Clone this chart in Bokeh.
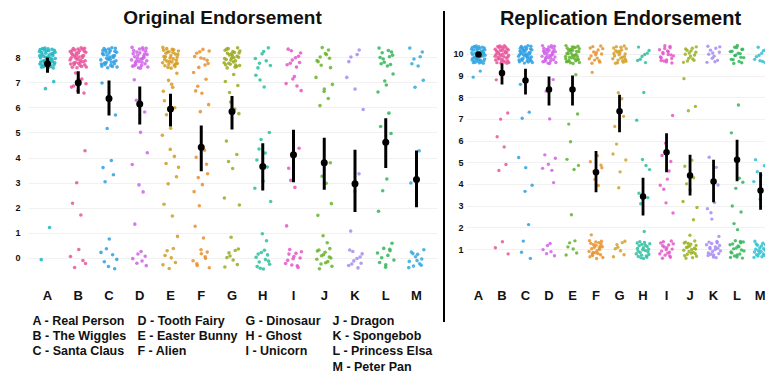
from bokeh.plotting import figure
from bokeh.layouts import row, column
from bokeh.models import Range1d, FixedTicker, Label, ColumnDataSource, Div
from bokeh.embed import file_html
from bokeh.resources import INLINE

letters = ["A", "B", "C", "D", "E", "F", "G", "H", "I", "J", "K", "L", "M"]
legend_names = ["Real Person", "The Wiggles", "Santa Claus", "Tooth Fairy", "Easter Bunny",
                "Alien", "Dinosaur", "Ghost", "Unicorn", "Dragon", "Spongebob",
                "Princess Elsa", "Peter Pan"]

# ---- Original endorsement: response counts at levels 0..8 per character ----
orig_levels = [0, 1, 2, 3, 4, 5, 6, 7, 8]
orig_counts = [
    [1, 1, 0, 0, 0, 0, 0, 2, 45],   # A
    [5, 0, 2, 1, 1, 0, 0, 8, 40],   # B
    [7, 1, 0, 2, 2, 1, 1, 1, 35],   # C
    [7, 1, 0, 2, 2, 1, 2, 1, 33],   # D
    [7, 1, 2, 2, 4, 2, 3, 5, 32],   # E
    [9, 2, 1, 4, 3, 0, 2, 5, 11],   # F
    [8, 1, 2, 0, 3, 1, 3, 4, 30],   # G
    [12, 2, 1, 2, 4, 2, 0, 3, 8],   # H
    [12, 1, 0, 2, 2, 0, 0, 5, 10],  # I
    [14, 2, 2, 2, 1, 0, 2, 4, 10],  # J
    [10, 1, 0, 2, 0, 0, 1, 2, 4],   # K
    [10, 1, 1, 2, 0, 2, 1, 4, 12],  # L
    [12, 0, 0, 1, 1, 0, 0, 2, 6],   # M
]
orig_mean = [7.76, 7.00, 6.37, 6.16, 5.96, 4.43, 5.86, 3.67, 4.13, 3.81, 2.98, 4.63, 3.15]
orig_lo = [7.40, 6.56, 5.70, 5.34, 5.26, 3.48, 5.14, 2.71, 3.04, 2.74, 1.85, 3.61, 2.04]
orig_hi = [8.01, 7.46, 7.09, 6.85, 6.56, 5.30, 6.47, 4.59, 5.13, 4.81, 4.33, 5.59, 4.30]
orig_colors = ["#1FB5C0", "#E8559A", "#2E9FE3", "#D060E8", "#D39B22", "#E88F2F", "#9AAA22",
               "#2CBFA0", "#E456C8", "#6AB42E", "#A78BF2", "#31B55B", "#34A8E0"]

# ---- Replication endorsement: response counts at levels 1..10 per character ----
rep_levels = [1, 2, 3, 4, 5, 6, 7, 8, 9, 10]
rep_counts = [
    [0, 0, 0, 0, 0, 0, 0, 0, 2, 45],   # A
    [3, 0, 0, 0, 2, 2, 2, 0, 2, 40],   # B
    [3, 1, 0, 2, 2, 0, 2, 0, 1, 40],   # C
    [6, 0, 0, 1, 5, 0, 1, 1, 1, 35],   # D
    [6, 0, 1, 0, 3, 1, 2, 0, 1, 35],   # E
    [25, 1, 0, 2, 5, 0, 0, 0, 1, 16],  # F
    [8, 0, 0, 1, 3, 1, 2, 2, 0, 25],   # G
    [24, 1, 2, 1, 3, 0, 1, 1, 0, 8],   # H
    [18, 0, 2, 3, 3, 1, 1, 0, 0, 20],  # I
    [22, 2, 2, 3, 2, 0, 1, 1, 1, 15],  # J
    [20, 2, 3, 1, 2, 0, 0, 0, 0, 12],  # K
    [20, 2, 2, 3, 0, 1, 0, 1, 0, 18],  # L
    [22, 0, 2, 2, 3, 0, 0, 0, 0, 10],  # M
]
rep_mean = [10.00, 9.15, 8.80, 8.38, 8.38, 4.57, 7.38, 3.45, 5.49, 4.41, 4.14, 5.14, 3.72]
rep_lo = [9.92, 8.61, 8.15, 7.64, 7.64, 3.64, 6.41, 2.57, 4.57, 3.49, 3.18, 4.15, 2.83]
rep_hi = [10.08, 9.60, 9.34, 8.98, 9.03, 5.54, 8.14, 4.31, 6.37, 5.37, 5.14, 6.06, 4.57]
rep_colors = ["#2FA4DF", "#E8559A", "#2E9FE3", "#D060E8", "#62B22E", "#E8922B", "#D4A02A",
              "#2CBFA0", "#E456C8", "#9AB020", "#A78BF2", "#31B55B", "#2FBFD0"]

FONT = "Liberation Sans"
PH = 312          # height of each panel figure
FRAME_B = 278     # frame bottom (px from top)


def halton(n, b):
    f, r = 1.0, 0.0
    while n > 0:
        f /= b
        r += f * (n % b)
        n //= b
    return r


def jittered(counts, levels, colors, wx, wy):
    # deterministic (Halton) jitter around each integer response
    xs, ys, cs = [], [], []
    for i, rowc in enumerate(counts):
        k = 0
        for lev, n in zip(levels, rowc):
            for _ in range(n):
                k += 1
                u = halton(k + 11 * i + 3, 2)
                v = halton(k + 11 * i + 3, 3)
                xs.append(i + (u - 0.5) * 2 * wx)
                ys.append(lev + (v - 0.5) * 2 * wy)
                cs.append(colors[i])
    return ColumnDataSource(dict(x=xs, y=ys, c=cs))


def make_panel(width, xr, yr, yticks, border_left, border_right, standoff_y):
    p = figure(width=width, height=PH, x_range=Range1d(*xr), y_range=Range1d(*yr),
               output_backend="svg", toolbar_location=None,
               min_border_left=border_left, min_border_right=border_right,
               min_border_top=0, min_border_bottom=PH - FRAME_B,
               background_fill_color="white", border_fill_color="white",
               outline_line_color=None)
    p.xaxis.ticker = FixedTicker(ticks=list(range(13)))
    p.xaxis.major_label_overrides = {i: l for i, l in enumerate(letters)}
    p.yaxis.ticker = FixedTicker(ticks=yticks)
    for ax in (p.xaxis[0], p.yaxis[0]):
        ax.axis_line_color = None
        ax.major_tick_line_color = None
        ax.minor_tick_line_color = None
        ax.major_tick_out = 0
        ax.major_tick_in = 0
        ax.major_label_text_font = FONT
        ax.major_label_text_font_style = "bold"
        ax.major_label_text_color = "#111111"
    p.xaxis.major_label_text_font_size = "13px"
    p.xaxis.major_label_standoff = 9
    p.yaxis.major_label_text_font_size = "9px"
    p.yaxis.major_label_standoff = standoff_y
    p.xgrid.grid_line_color = None
    p.ygrid.ticker = FixedTicker(ticks=yticks)
    p.ygrid.grid_line_color = "#f1f1f1"
    p.ygrid.grid_line_width = 1
    return p


def frame_label(p, x, y, text, size, align="left"):
    # screen units are relative to the plot frame (origin at its bottom-left)
    p.add_layout(Label(x=x, y=y, x_units="screen", y_units="screen", text=text,
                       text_font=FONT, text_font_style="bold", text_font_size=size,
                       text_align=align, text_baseline="middle", text_color="#111111"))


idx = list(range(13))

# ---------------- left panel ----------------
left = make_panel(443, (-0.618, 12.683), (-0.797, 10.279), orig_levels, 28, 6, 8)
src_o = jittered(orig_counts, orig_levels, orig_colors, 0.27, 0.42)
left.scatter("x", "y", source=src_o, size=3.6, fill_color="c", line_color=None, fill_alpha=0.85)
left.segment(x0=idx, y0=orig_lo, x1=idx, y1=orig_hi, line_color="black", line_width=3)
left.scatter(x=idx, y=orig_mean, size=7, fill_color="black", line_color=None)
frame_label(left, 194, 261, "Original Endorsement", "19px", "center")

# ---------------- legend under the left panel ----------------
# (its frame is aligned with the left panel's frame, which starts 28px in)
leg = figure(width=443, height=373 - PH, output_backend="svg", toolbar_location=None,
             x_axis_location=None, y_axis_location=None,
             min_border_left=0, min_border_right=0, min_border_top=0, min_border_bottom=0,
             background_fill_color="white", border_fill_color="white", outline_line_color=None,
             x_range=Range1d(0, 1), y_range=Range1d(0, 1))
leg.xgrid.grid_line_color = None
leg.ygrid.grid_line_color = None
col_x = [4, 109, 217, 304]
row_y = [53, 38, 23, 7]
for i, (l, nm) in enumerate(zip(letters, legend_names)):
    if i < 9:
        c, r = i // 3, i % 3
    else:
        c, r = 3, i - 9
    frame_label(leg, col_x[c], row_y[r], f"{l} - {nm}", "12.5px")

# ---------------- divider ----------------
divider = Div(text="", width=2, height=311, margin=(11, 0, 0, 0),
              styles={"background-color": "black"})

# ---------------- right panel ----------------
right = make_panel(320, (-0.51, 12.21), (-0.338, 12.49), rep_levels, 21, 0, 3)
src_r = jittered(rep_counts, rep_levels, rep_colors, 0.3, 0.42)
right.scatter("x", "y", source=src_r, size=3.4, fill_color="c", line_color=None, fill_alpha=0.85)
right.segment(x0=idx, y0=rep_lo, x1=idx, y1=rep_hi, line_color="black", line_width=2.8)
right.scatter(x=idx, y=rep_mean, size=6.5, fill_color="black", line_color=None)
frame_label(right, 154, 261, "Replication Endorsement", "20px", "center")

layout = row(column(left, leg, spacing=0), divider, right, spacing=0)
open("out.html", "w").write(file_html(layout, INLINE))
